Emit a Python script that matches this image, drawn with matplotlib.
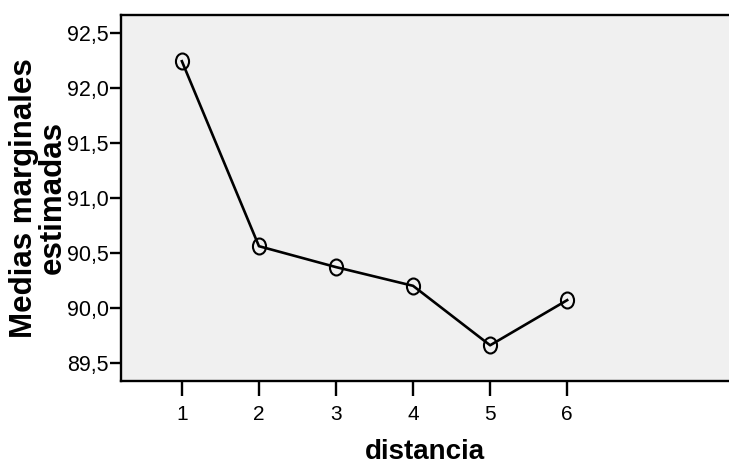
import matplotlib
matplotlib.use("Agg")
import matplotlib.pyplot as plt
from matplotlib.path import Path
from matplotlib.transforms import Affine2D
from matplotlib.ticker import FuncFormatter

# data
distancia = [1, 2, 3, 4, 5, 6]
medias = [92.24, 90.56, 90.37, 90.20, 89.66, 90.07]
y_ticks = [89.5, 90.0, 90.5, 91.0, 91.5, 92.0, 92.5]

plt.rcParams['font.family'] = ['Liberation Sans', 'DejaVu Sans']

fig = plt.figure(figsize=(7.29, 4.68), dpi=100)
ax = fig.add_axes([0.166, 0.186, 0.834, 0.782])
ax.set_facecolor('#f0f0f0')

# slightly tall ellipse like the SPSS marker
ellipse = Path.unit_circle().transformed(Affine2D().scale(0.82, 1.0))

ax.plot(distancia, medias, color='black', lw=1.9,
        marker=ellipse, markersize=11.5, mfc='none', mec='black', mew=1.5)

ax.set_xlim(0.21, 8.1)
ax.set_ylim(89.336, 92.66)
ax.set_xticks(distancia)
ax.set_yticks(y_ticks)
ax.yaxis.set_major_formatter(FuncFormatter(lambda v, p: f"{v:.1f}".replace('.', ',')))

for s in ['left', 'bottom', 'top']:
    ax.spines[s].set_linewidth(1.7)
ax.spines['right'].set_visible(False)

ax.tick_params(axis='y', length=8, width=1.7, labelsize=15.5, pad=1)
ax.tick_params(axis='x', length=11, width=1.7, labelsize=15, pad=6)

ax.set_xlabel('distancia', fontsize=20, fontweight='bold', labelpad=11)
ax.set_ylabel('Medias marginales\nestimadas', fontsize=22.5, fontweight='bold',
              linespacing=0.95, labelpad=-1)

fig.savefig('out.png', dpi=100)
